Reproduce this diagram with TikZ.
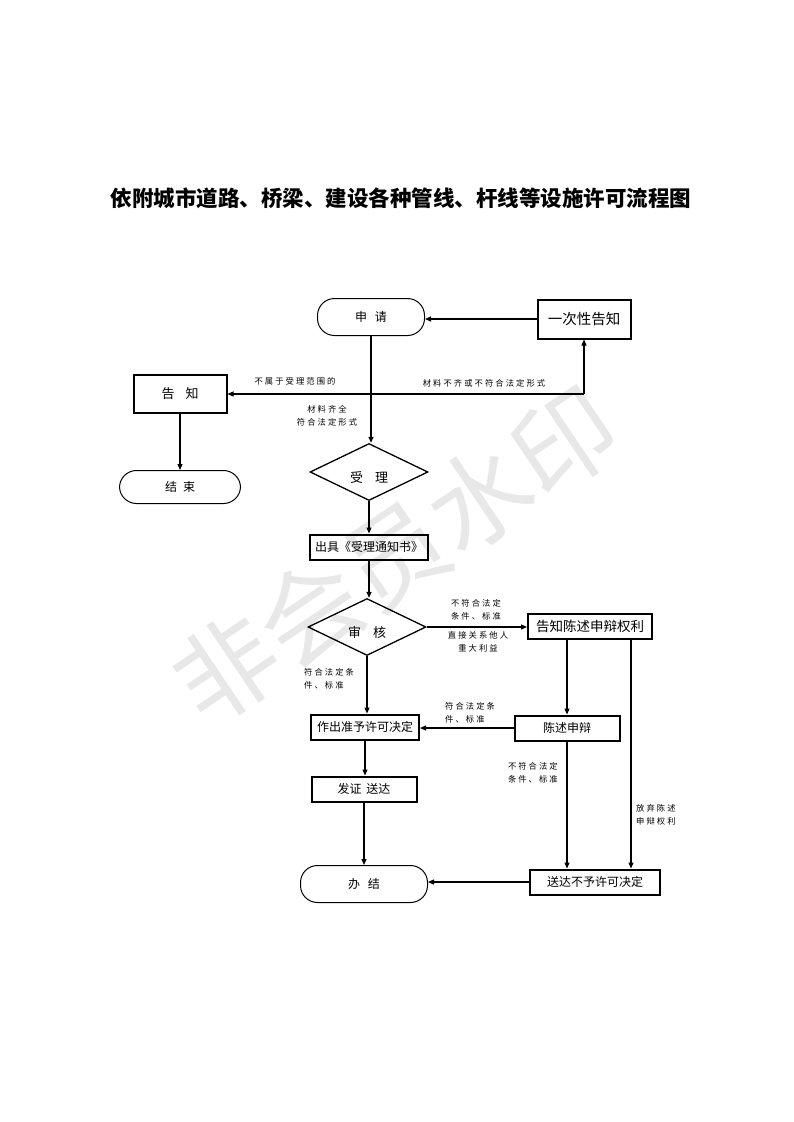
\documentclass[tikz,border=0pt]{standalone}
\usepackage{fontspec}
\setmainfont{Noto Sans CJK SC}
\newfontfamily\notefont{Noto Sans CJK SC}[LetterSpace=25]
\usepackage{tikz}
\usetikzlibrary{arrows.meta,shapes.geometric,calc}
\newcommand{\gap}[1][8pt]{\hspace{#1}}
\newcommand{\lowtext}[1]{\raisebox{-10pt}[0pt][0pt]{#1}}
\tikzset{
    frame color/.style={black},
    watermark color/.style={black!9},
    process/.style={draw,frame color,line width=2pt,minimum height=25pt,inner sep=2pt,font=\fontsize{12}{14}\selectfont},
    terminal/.style={draw,frame color,line width=1pt,rounded corners=17pt,minimum height=37pt,font=\fontsize{12}{14}\selectfont},
    decision/.style={draw,frame color,diamond,line width=1.3pt,inner sep=0pt,minimum width=118pt,minimum height=57pt,font=\fontsize{13}{15}\selectfont},
    arr/.style={-{Triangle[length=6pt,width=5pt]},line width=1.2pt},
    note/.style={inner sep=0pt,font=\notefont\fontsize{8.3}{13.5}\selectfont},
}

\begin{document}
\begin{tikzpicture}[x=1pt,y=-1pt]
        \useasboundingbox (0,0) rectangle (793,1122);
        \node[watermark color,rotate=34,font=\fontsize{102}{102}\selectfont] (mark) at (395,555) {非会员水印};
        \node[font=\bfseries\fontsize{21.5}{24}\selectfont] (title) at (401,198) {依附城市道路、桥梁、建设各种管线、杆线等设施许可流程图};

        \node[terminal,minimum width=107pt] (apply) at (371,317) {申\gap 请};
        \node[process,minimum width=93pt,minimum height=39pt,font=\fontsize{14.5}{16}\selectfont] (once) at (584,319) {一次性告知};
        \node[process,minimum width=93pt,minimum height=38pt,font=\fontsize{13}{15}\selectfont] (inform) at (180,394) {告\gap[11pt]知};
        \node[terminal,minimum width=121pt,minimum height=33pt] (finish) at (180,487) {结\gap[6pt]束};
        \node[decision] (accept) at (369,472) {\lowtext{受\gap[12pt]理}};
        \node[process,minimum width=118pt] (notice) at (369,547) {出具《受理通知书》};
        \node[decision] (review) at (367,627) {\lowtext{审\gap[12pt]核}};
        \node[process,minimum width=124pt,font=\fontsize{13.5}{15}\selectfont] (rights) at (590,626) {告知陈述申辩权利};
        \node[process,minimum width=108pt] (grant) at (365,727) {作出准予许可决定};
        \node[process,minimum width=105pt] (defend) at (567,728) {陈述申辩};
        \node[process,minimum width=105pt] (issue) at (364,789) {发证\gap[5pt]送达};
        \node[terminal,minimum width=127pt] (done) at (364,884) {办\gap 结};
        \node[process,minimum width=130pt] (refuse) at (595,882) {送达不予许可决定};

        \coordinate (turn) at (once.south |- inform.east);
        \coordinate (waive) at (631,0);

        \draw[arr] (once.west) -- (once.west -| apply.east);
        \draw[arr] (turn) -- (once.south);
        \draw[arr] (turn) -- (inform.east);
        \draw[arr] (inform.south) -- (finish.north);
        \draw[arr] (apply.south) -- (apply.south |- accept.north);
        \draw[arr] (accept.south) -- (notice.north);
        \draw[arr] (notice.south) -- (notice.south |- review.north);
        \draw[arr] (review.east) -- (review.east -| rights.west);
        \draw[arr] (review.south) -- (review.south |- grant.north);
        \draw[arr] (rights.south -| defend.north) -- (defend.north);
        \draw[arr] (rights.south -| waive) -- (refuse.north -| waive);
        \draw[arr] (defend.west) -- (defend.west -| grant.east);
        \draw[arr] (defend.south) -- (defend.south |- refuse.north);
        \draw[arr] (grant.south) -- (grant.south |- issue.north);
        \draw[arr] (issue.south) -- (issue.south |- done.north);
        \draw[arr] (refuse.west) -- (refuse.west -| done.east);

        \node[note] (outside) at (295,381) {不属于受理范围的};
        \node[note] (lacking) at (484,383) {材料不齐或不符合法定形式};
        \node[note,align=center] (complete) at (327,416) {材料齐全\\符合法定形式};
        \node[note,align=center] (reject1) at (476,610) {不符合法定\\条件、标准};
        \node[note,align=center] (interest) at (478,642) {直接关系他人\\重大利益};
        \node[note,align=left,anchor=west] (meet1) at (304,679) {符合法定条\\件、标准};
        \node[note,align=left,anchor=west] (meet2) at (445,713) {符合法定条\\件、标准};
        \node[note,align=right,anchor=east] (reject2) at (558,773) {不符合法定\\条件、标准};
        \node[note,align=left,anchor=west] (giveup) at (636,815) {放弃陈述\\申辩权利};
\end{tikzpicture}
\end{document}
